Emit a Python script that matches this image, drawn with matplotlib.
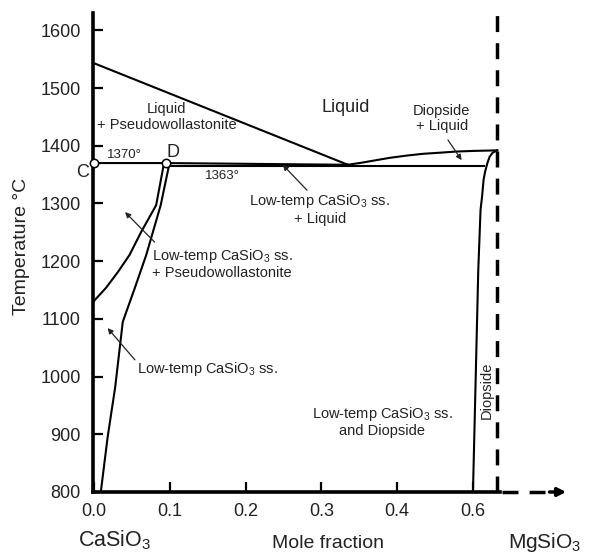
import matplotlib
matplotlib.use("Agg")
import matplotlib.pyplot as plt

plt.rcParams['font.family'] = ['Liberation Sans', 'DejaVu Sans']
plt.rcParams['mathtext.fontset'] = 'custom'
plt.rcParams['mathtext.rm'] = 'Liberation Sans'
plt.rcParams['mathtext.it'] = 'Liberation Sans'

# phase boundaries (mole fraction MgSiO3, temperature in C)
liq_pw_x = [0.0, 0.335]
liq_pw_t = [1543, 1367]

liq_di_x = [0.335, 0.355, 0.368, 0.390, 0.413, 0.434, 0.457, 0.479, 0.500, 0.532]
liq_di_t = [1367, 1371, 1374, 1379, 1383, 1386, 1388, 1390, 1391, 1392]

upper_x = [0.0, 0.095, 0.335]
upper_t = [1370, 1370, 1367]

lower_x = [0.099, 0.515]
lower_t = [1365, 1365]

pw_solvus_x = [0.092, 0.082, 0.062, 0.047, 0.032, 0.016, 0.0]
pw_solvus_t = [1367, 1297, 1250, 1211, 1182, 1154, 1131]

cs_solvus_x = [0.099, 0.088, 0.069, 0.054, 0.038, 0.028, 0.018, 0.009]
cs_solvus_t = [1366, 1297, 1211, 1154, 1095, 982, 895, 800]

di_solvus_x = [0.532, 0.526, 0.522, 0.519, 0.516, 0.514, 0.512, 0.510, 0.507, 0.500]
di_solvus_t = [1392, 1388, 1381, 1370, 1355, 1341, 1312, 1289, 1185, 800]

points_x = [0.0, 0.095]
points_t = [1370, 1370]

diopside_x = 0.532

y_ticks = [800, 900, 1000, 1100, 1200, 1300, 1400, 1500, 1600]
x_ticks = [0.0, 0.1, 0.2, 0.3, 0.4, 0.5]
x_tick_labels = ['0.0', '0.1', '0.2', '0.3', '0.4', '0.6']

W, H = 592, 553
fig = plt.figure(figsize=(W / 100, H / 100), dpi=100)
ax = fig.add_axes([93 / W, (H - 492) / H, 406.5 / W, 479 / H])
ax.set_xlim(-0.0013, 0.535)
ax.set_ylim(800, 1630)

txt = '#222222'
lw = 1.5

ax.plot(liq_pw_x, liq_pw_t, color='black', lw=lw)
ax.plot(liq_di_x, liq_di_t, color='black', lw=lw)
ax.plot(upper_x, upper_t, color='black', lw=lw)
ax.plot(lower_x, lower_t, color='black', lw=lw)
ax.plot(pw_solvus_x, pw_solvus_t, color='black', lw=lw)
ax.plot(cs_solvus_x, cs_solvus_t, color='black', lw=lw)
ax.plot(di_solvus_x, di_solvus_t, color='black', lw=lw)

# diopside composition and continuation toward MgSiO3
ax.plot([diopside_x, diopside_x], [800, 1627], color='black', lw=2.5,
        linestyle=(0, (4.6, 3.2)), clip_on=False, zorder=3)
ax.plot([0.538, 0.600], [800, 800], color='black', lw=2.5,
        linestyle=(0, (4.6, 3.2)), clip_on=False)
ax.annotate('', xy=(0.623, 800), xytext=(0.601, 800),
            arrowprops=dict(arrowstyle='-|>', lw=2.5, color='black',
                            mutation_scale=12, shrinkA=0, shrinkB=0),
            annotation_clip=False)

ax.plot(points_x, points_t, 'o', ms=6, mfc='white', mec='black', mew=1.1,
        clip_on=False, zorder=5)

for s in ['top', 'right']:
    ax.spines[s].set_visible(False)
for s in ['left', 'bottom']:
    ax.spines[s].set_linewidth(2.6)

ax.set_yticks(y_ticks)
ax.set_xticks(x_ticks)
ax.set_xticklabels(x_tick_labels)
ax.tick_params(direction='in', length=7, width=1.6, labelsize=13,
               colors='black', labelcolor=txt)
ax.tick_params(axis='y', pad=9)
ax.tick_params(axis='x', pad=8)

fs = 10.5
ax.text(0.096, 1450, 'Liquid\n+ Pseudowollastonite', fontsize=fs, ha='center',
        va='center', color=txt, linespacing=1.15)
ax.text(0.332, 1466, 'Liquid', fontsize=13, ha='center', va='center', color=txt)
ax.text(0.459, 1447, 'Diopside\n+ Liquid', fontsize=fs, ha='center',
        va='center', color=txt, linespacing=1.15)
ax.text(0.017, 1384, '1370°', fontsize=9.5, ha='left', va='center', color=txt)
ax.text(0.104, 1388, 'D', fontsize=13, ha='center', va='center', color=txt)
ax.text(-0.0145, 1353, 'C', fontsize=13, ha='center', va='center', color=txt,
        clip_on=False)
ax.text(0.169, 1348, '1363°', fontsize=9.5, ha='center', va='center', color=txt)
ax.text(0.298, 1290, 'Low-temp CaSiO$_\\mathrm{3}$ ss.\n+ Liquid', fontsize=fs,
        ha='center', va='center', color=txt, linespacing=1.15)
ax.text(0.169, 1196, 'Low-temp CaSiO$_\\mathrm{3}$ ss.\n+ Pseudowollastonite',
        fontsize=fs, ha='center', va='center', color=txt, linespacing=1.15)
ax.text(0.150, 1013, 'Low-temp CaSiO$_\\mathrm{3}$ ss.', fontsize=fs,
        ha='center', va='center', color=txt)
ax.text(0.380, 922, 'Low-temp CaSiO$_\\mathrm{3}$ ss.\nand Diopside', fontsize=fs,
        ha='center', va='center', color=txt, linespacing=1.15)
ax.text(0.518, 977, 'Diopside', fontsize=fs, ha='center', va='center',
        rotation=90, color=txt)

arrow = dict(arrowstyle='-|>', lw=0.9, color='#222222', mutation_scale=8,
             shrinkA=0, shrinkB=0)
ax.annotate('', xy=(0.485, 1375), xytext=(0.467, 1410), arrowprops=arrow)
ax.annotate('', xy=(0.249, 1367), xytext=(0.281, 1323), arrowprops=arrow)
ax.annotate('', xy=(0.041, 1285), xytext=(0.080, 1233), arrowprops=arrow)
ax.annotate('', xy=(0.018, 1084), xytext=(0.054, 1029), arrowprops=arrow)

fig.text(22 / W, 1 - 246 / H, 'Temperature °C', rotation=90, fontsize=14,
         ha='center', va='center', color=txt)
fig.text(115 / W, 1 - 540 / H, 'CaSiO$_\\mathrm{3}$', fontsize=15.5,
         ha='center', va='center', color=txt)
fig.text(328 / W, 1 - 543 / H, 'Mole fraction', fontsize=14, ha='center',
         va='center', color=txt)
fig.text(508 / W, 1 - 543 / H, 'MgSiO$_\\mathrm{3}$', fontsize=15, ha='left',
         va='center', color=txt)

fig.savefig('out.png', dpi=100)
